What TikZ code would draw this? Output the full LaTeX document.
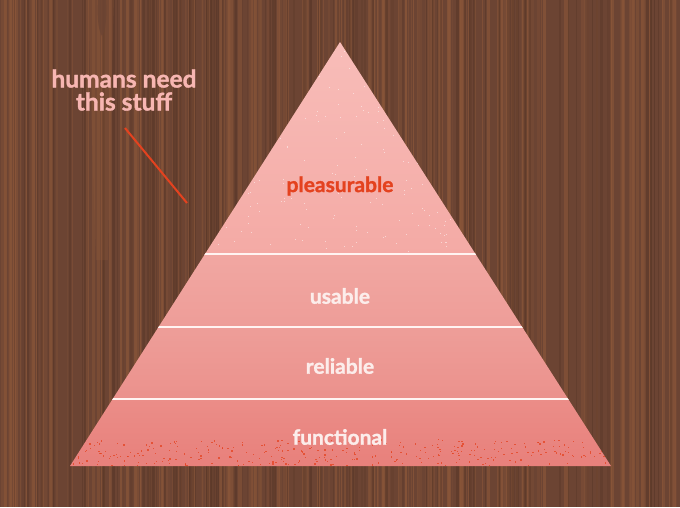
\documentclass[tikz,border=0pt]{standalone}
\usepackage{fontspec}
\setmainfont{Lato}[BoldFeatures={FakeBold=1.3}]
\definecolor{woodbase}{HTML}{6C4433}
\definecolor{woodlight}{HTML}{8A5639}
\definecolor{wooddark}{HTML}{5A3829}
\definecolor{bandA1}{HTML}{F8BDB9}
\definecolor{bandA2}{HTML}{F4AAA5}
\definecolor{bandB1}{HTML}{F1A7A2}
\definecolor{bandB2}{HTML}{EE9D98}
\definecolor{bandC1}{HTML}{EE9E99}
\definecolor{bandC2}{HTML}{EB918C}
\definecolor{bandD1}{HTML}{EB8D88}
\definecolor{bandD2}{HTML}{E8807B}
\definecolor{accent}{HTML}{E4421F}
\definecolor{labelpink}{HTML}{F7B6B2}
\definecolor{labelwhite}{HTML}{FCEDEB}
\definecolor{sepline}{HTML}{FFF4F2}
\begin{document}
\begin{tikzpicture}[x=1pt,y=-1pt,
  bandlabel/.style={font=\bfseries\fontsize{21}{24}\selectfont, text=labelwhite, inner sep=0pt},
  notelabel/.style={font=\bfseries\fontsize{24.5}{23}\selectfont, text=labelpink, inner sep=0pt, align=center},
  sep/.style={draw=sepline, line width=2pt},
  pointer/.style={draw=accent, line width=2pt}]
\useasboundingbox (0,0) rectangle (680,507);
% wood background
\fill[woodbase] (0,0) rectangle (680,507);
\pgfmathsetseed{11}
\foreach \i in {1,...,260}{
  \pgfmathsetmacro\xx{680*rnd}
  \pgfmathsetmacro\ww{0.6+2.8*rnd}
  \pgfmathsetmacro\op{0.15+0.55*rnd}
  \fill[woodlight, opacity=\op] (\xx,0) rectangle ++(\ww,507);
}
\foreach \i in {1,...,120}{
  \pgfmathsetmacro\xx{680*rnd}
  \pgfmathsetmacro\ww{0.6+2.5*rnd}
  \pgfmathsetmacro\op{0.2+0.5*rnd}
  \fill[wooddark, opacity=\op] (\xx,0) rectangle ++(\ww,507);
}
% knot and streak
\fill[woodlight, opacity=0.3] (88,0) .. controls (90,60) and (92,150) .. (96,260) -- (108,260) .. controls (110,150) and (112,60) .. (114,0) -- cycle;
\fill[woodbase, opacity=0.8] (98,0) .. controls (97,15) and (98,30) .. (102,36) .. controls (106,30) and (107,15) .. (106,0) -- cycle;
% pyramid
\begin{scope}
  \clip (340,42) -- (611,466) -- (70,466) -- cycle;
  \shade[top color=bandA1, bottom color=bandA2] (60,40) rectangle (620,254);
  \shade[top color=bandB1, bottom color=bandB2] (60,254) rectangle (620,327);
  \shade[top color=bandC1, bottom color=bandC2] (60,327) rectangle (620,399);
  \shade[top color=bandD1, bottom color=bandD2] (60,399) rectangle (620,467);
  \pgfmathsetseed{5}
  \foreach \i in {1,...,320}{
    \pgfmathsetmacro\dx{70+541*rnd}
    \pgfmathsetmacro\dy{439+27*rnd}
    \fill[accent, opacity=0.75] (\dx,\dy) rectangle ++(1.3,1.3);
  }
  \foreach \i in {1,...,260}{
    \pgfmathsetmacro\dx{200+280*rnd}
    \pgfmathsetmacro\dy{42+210*rnd}
    \fill[white, opacity=0.5] (\dx,\dy) rectangle ++(1,1);
  }
  \draw[sep] (60,254) -- (620,254);
  \draw[sep] (60,327) -- (620,327);
  \draw[sep] (60,399) -- (620,399);
\end{scope}
% labels
\node[bandlabel, text=accent] (pleasurable) at (340,186) {pleasurable};
\node[bandlabel] (usable) at (340,296) {usable};
\node[bandlabel] (reliable) at (340,366) {reliable};
\node[bandlabel] (functional) at (340,437) {functional};
\node[notelabel] (note) at (124,90) {humans need\\this stuff};
\coordinate (ptrA) at (125,128);
\coordinate (ptrB) at (187,203);
\draw[pointer] (ptrA) -- (ptrB);
\end{tikzpicture}
\end{document}
